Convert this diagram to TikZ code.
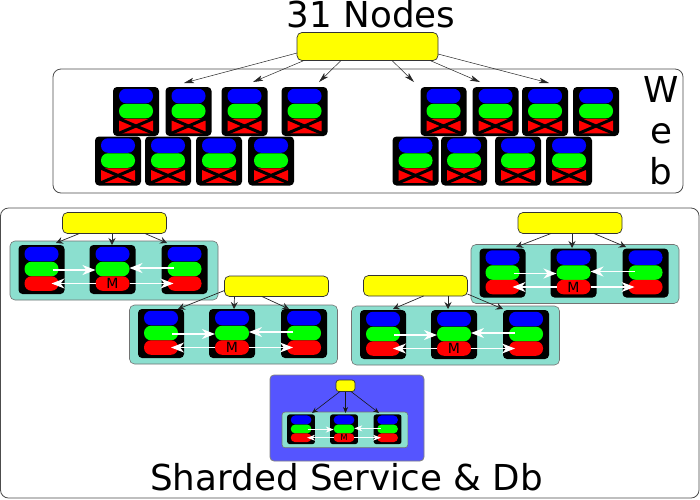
\documentclass[tikz,border=0pt]{standalone}
\usepackage{fontspec}
\setmainfont{DejaVu Sans}
\usetikzlibrary{arrows.meta,calc}
\definecolor{tealbg}{HTML}{8BDFCF}
\definecolor{purplebg}{HTML}{5555FF}
\definecolor{lbyellow}{HTML}{FFFF00}
\definecolor{pblue}{HTML}{0000FF}
\definecolor{pgreen}{HTML}{00FF00}
\definecolor{pred}{HTML}{FF0000}
\def\rr{7pt}\def\br{4pt}\def\tr{5pt}\def\yr{5pt}
\tikzset{
  x=1pt,y=-1pt,
  panel/.style={draw=black!70,line width=.8pt,fill=white,rounded corners=8pt,inner sep=0,outer sep=0,anchor=north west},
  srv/.style={fill=black,rounded corners=\br,inner sep=0,outer sep=0,minimum width=46pt,minimum height=49pt,anchor=north west},
  pill/.style={rounded corners=\rr,inner sep=0,outer sep=0,minimum width=34pt,minimum height=14.5pt},
  tealbox/.style={fill=tealbg,draw=black!55,line width=.6pt,rounded corners=\tr,inner sep=0,outer sep=0,minimum width=208pt,minimum height=59pt,anchor=north west},
  lb/.style={fill=lbyellow,draw=black!80,line width=.7pt,rounded corners=\yr,inner sep=0,outer sep=0,anchor=north west},
  thinarr/.style={draw=black!85,line width=.5pt,-{Stealth[length=10pt,width=5.5pt,inset=2.5pt]}},
  grparr/.style={draw=black!85,line width=.7pt,-{Stealth[length=7pt,width=7pt,inset=2.5pt]}},
  whitearr/.style={draw=white,line width=1.2pt,-{Stealth[length=13pt,width=10pt,inset=4pt]}},
  big/.style={font=\fontsize{35.7}{36}\selectfont,inner sep=0,text=black}
}
\newcommand\webbox[3]{%
  \node[srv] (#1) at (#2,#3) {};
  \node[pill,fill=pblue] (#1b) at ([yshift=-9pt]#1.north) {};
  \node[pill,fill=pgreen] (#1g) at ([yshift=-24pt]#1.north) {};
  \node[pill,fill=pred,rounded corners=2.5pt] (#1r) at ([yshift=-39pt]#1.north) {};
  \draw[black,line width=3pt] (#1r.north west) -- (#1r.south east);
  \draw[black,line width=3pt] (#1r.north east) -- (#1r.south west);
}
\newcommand\dbbox[2]{%
  \node[srv] (#1) at (#2,4) {};
  \node[pill,fill=pblue] (#1b) at ([yshift=-9pt]#1.north) {};
  \node[pill,fill=pgreen] (#1g) at ([yshift=-24pt]#1.north) {};
  \node[pill,fill=pred] (#1r) at ([yshift=-38.5pt]#1.north) {};
}
\newcommand\replset[5]{%
  \begin{scope}[shift={(#2,#3)},scale=#4,transform shape]
    \node[tealbox] (#1t) at (0,0) {};
    \dbbox{#1a}{8.5}
    \dbbox{#1c}{79.5}
    \dbbox{#1d}{151.5}
    \node[font=\fontsize{#5}{#5}\selectfont,inner sep=0] (#1m) at (#1cr) {M};
    \draw[whitearr] ([xshift=11pt,yshift=-1pt]#1ag.center) -- ([yshift=-1pt]#1cg.west);
    \draw[whitearr] ([xshift=-11pt,yshift=1pt]#1dg.center) -- ([yshift=1pt]#1cg.east);
    \draw[whitearr] (#1cr.west) -- ([xshift=10pt]#1ar.center);
    \draw[whitearr] (#1cr.east) -- ([xshift=6pt]#1dr.west);
  \end{scope}%
}
\newcommand\lnk[7]{%
  \coordinate (#5) at (#6,#7);
  \draw[#1] ([xshift=#3 pt,yshift=#4 pt]#2.south west) -- (#5);
}
\begin{document}
\begin{tikzpicture}
\useasboundingbox (0,0) rectangle (700,499);
\node[panel,minimum width=630pt,minimum height=124pt] (web) at (53,69) {};
\node[big,anchor=base] (title) at (371,27) {31 Nodes};
\node[big,anchor=base] (w1) at (661,102) {W};
\node[big,anchor=base] (w2) at (661,143) {e};
\node[big,anchor=base] (w3) at (661,184) {b};
\webbox{ta}{113}{87}
\webbox{tb}{165.5}{87}
\webbox{tc}{221.5}{87}
\webbox{td}{281.5}{87}
\webbox{te}{420.5}{87}
\webbox{tf}{472.5}{87}
\webbox{tg}{522}{87}
\webbox{th}{573}{87}
\webbox{ba}{95}{136.5}
\webbox{bb}{145}{136.5}
\webbox{bc}{196}{136.5}
\webbox{bd}{248}{136.5}
\webbox{be}{392.5}{136.5}
\webbox{bf}{441}{136.5}
\webbox{bg}{495}{136.5}
\webbox{bh}{546}{136.5}
\node[lb,minimum width=141pt,minimum height=28pt] (web lb) at (297,32.5) {};
\lnk{thinarr}{web lb}{0}{7.5}{e1}{184}{83}
\lnk{thinarr}{web lb}{7}{0}{e2}{253}{82}
\lnk{thinarr}{web lb}{44}{0}{e3}{319}{82}
\lnk{thinarr}{web lb}{95}{0}{e4}{414}{82}
\lnk{thinarr}{web lb}{133}{0}{e5}{480}{82}
\lnk{thinarr}{web lb}{141}{6.5}{e6}{549}{83}
\node[panel,minimum width=698.5pt,minimum height=290pt] (shard) at (.5,208) {};
\node[big,anchor=base] (stitle) at (346.5,490) {Sharded Service \& Db};
\replset{p}{10}{241}{1}{14}
\node[lb,minimum width=104pt,minimum height=21pt] (pl) at (62.5,212.5) {};
\lnk{grparr}{pl}{17}{0}{p1}{56}{243}
\lnk{grparr}{pl}{49.5}{0}{p2}{112}{245}
\lnk{grparr}{pl}{82.5}{0}{p3}{167}{243}
\replset{s}{471}{244.5}{1}{14}
\node[lb,minimum width=104pt,minimum height=21pt] (sl) at (518,212.5) {};
\lnk{grparr}{sl}{33}{0}{s1}{516}{247}
\lnk{grparr}{sl}{54}{0}{s2}{572}{248}
\lnk{grparr}{sl}{76}{0}{s3}{626}{247}
\replset{q}{129.5}{305}{1}{14}
\node[lb,minimum width=104pt,minimum height=20.5pt] (ql) at (224.5,276) {};
\lnk{grparr}{ql}{0}{6}{q1}{178}{309}
\lnk{grparr}{ql}{10}{0}{q2}{234}{309}
\lnk{grparr}{ql}{37.5}{0}{q3}{289}{309}
\replset{r}{351.5}{306}{1}{14}
\node[lb,minimum width=104pt,minimum height=20.5pt] (rl) at (363.5,275.5) {};
\lnk{grparr}{rl}{60}{0}{r1}{393}{309}
\lnk{grparr}{rl}{84.5}{0}{r2}{448}{309}
\lnk{grparr}{rl}{104}{2}{r3}{503}{309}
\node[panel,draw=black!50,fill=purplebg,rounded corners=4pt,minimum width=154pt,minimum height=86pt] (svc) at (270,375) {};
\def\rr{4.2pt}\def\br{2.5pt}\def\tr{3pt}\def\yr{3pt}
\tikzset{whitearr/.style={draw=white,line width=.8pt,-{Stealth[length=8pt,width=6pt,inset=2.5pt]}}}
\replset{u}{282}{412}{.605}{14}
\node[lb,minimum width=19pt,minimum height=11.5pt] (ul) at (336,380) {};
\tikzset{grparr/.style={draw=black!90,line width=.6pt,-{Stealth[length=6pt,width=5pt,inset=2pt]}}}
\lnk{grparr}{ul}{4}{0}{u1}{312}{413}
\lnk{grparr}{ul}{9.5}{0}{u2}{345.5}{413}
\lnk{grparr}{ul}{15}{0}{u3}{379}{413}
\end{tikzpicture}
\end{document}
